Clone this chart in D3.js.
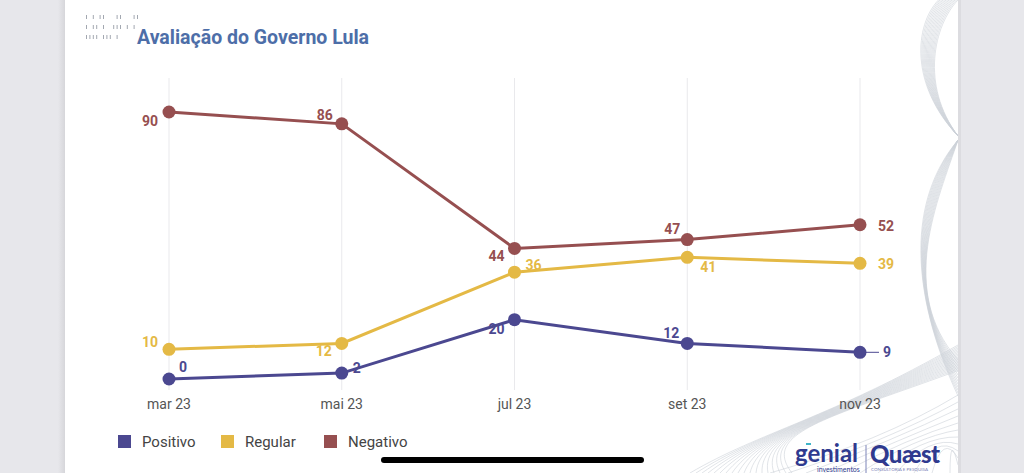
<!DOCTYPE html>
<meta charset="utf-8">
<style>
body { margin: 0; background: #e7e7eb; font-family: Roboto, "Noto Sans", sans-serif; }
svg { display: block; }
.grid line { stroke: #e9e9ec; stroke-width: 1px; }
.xlab { font-size: 14px; fill: #555; text-anchor: middle; }
.val { font-size: 14px; font-weight: 700; }
.leg { font-size: 15px; fill: #444; }
.wave path { fill: none; stroke: #cdd2d9; stroke-width: 0.6px; }
</style>
<body>
<script src="https://d3js.org/d3.v7.min.js"></script>
<script>

var width = 1024,
    height = 473;

// data
var months = ["mar 23", "mai 23", "jul 23", "set 23", "nov 23"];
var seriesNames = ["Positivo", "Regular", "Negativo"];
var positivo = [0, 2, 20, 12, 9];
var regular = [10, 12, 36, 41, 39];
var negativo = [90, 86, 44, 47, 52];

var colors = {"Positivo": "#4b4890", "Regular": "#e4b945", "Negativo": "#964f50"};

// label offsets (dx, dy, anchor) per point
var labelPos = {
  "Negativo": [[-11, 14, "end"], [-9, -4, "end"], [-10, 13, "end"], [-7, -6, "end"], [18, 6, "start"]],
  "Regular":  [[-11, -2, "end"], [-10, 13, "end"], [11, -2, "start"], [13, 15, "start"], [18, 6, "start"]],
  "Positivo": [[10, -7, "start"], [11, 0, "start"], [-10, 14, "end"], [-8, -5, "end"], [23, 5, "start"]]
};

var svg = d3.select("body").append("svg")
    .attr("width", width)
    .attr("height", height);

// card
var defs = svg.append("defs");
var sh = defs.append("linearGradient").attr("id", "shl").attr("x1", 0).attr("x2", 1);
sh.append("stop").attr("offset", 0).attr("stop-color", "#e7e7eb");
sh.append("stop").attr("offset", 1).attr("stop-color", "#d6d6da");
svg.append("rect").attr("x", 58).attr("y", 0).attr("width", 7).attr("height", height).attr("fill", "url(#shl)");
svg.append("rect").attr("x", 65).attr("y", 0).attr("width", 893).attr("height", height).attr("fill", "#fff");

// wave decoration
var wave = svg.append("g").attr("class", "wave");
d3.range(14).forEach(function(i){
  wave.append("path").attr("d", "M" + (958 - i * 1.5) + ",0 C" + (934 - i * 1.5) + ",25 " + (920 - i * 0.8) + ",85 958,136");
});
d3.range(13).forEach(function(i){
  wave.append("path").attr("d", "M958,140 C" + (938 - i * 2.5) + ",200 " + (897 + i * 1) + ",290 958," + (360 + i * 3));
});
d3.range(18).forEach(function(i){
  wave.append("path").attr("d", "M" + (690 + i * 6) + ",473 C760,432 830,418 958," + (345 + i * 1.5));
});
d3.range(11).forEach(function(i){
  wave.append("path").attr("d", "M" + (770 + i * 18) + ",473 Q" + (880 + i * 7) + "," + (442 - i) + " 958," + (395 + i * 7));
});
svg.append("rect").attr("x", 958).attr("y", 0).attr("width", 66).attr("height", height).attr("fill", "#e7e7eb");
svg.append("rect").attr("x", 958).attr("y", 0).attr("width", 3).attr("height", height).attr("fill", "#dcdce0");

// title marks
var marks = ["1 1011 0 11 0 11", "1 11 1 0111 1 1", "1111 111 1"];
marks.forEach(function(row, r){
  row.split("").forEach(function(c, k){
    if (c == "1") {
      svg.append("rect").attr("x", 86 + k * 3.4).attr("y", 15 + r * 10)
        .attr("width", 1).attr("height", 4).attr("fill", "#a3a8b1");
    }
  });
});

svg.append("text")
  .attr("x", 137).attr("y", 44)
  .style("font-size", "19.5px").style("font-weight", 700).style("fill", "#4d6ea8")
  .text("Avaliação do Governo Lula");

var x = d3.scalePoint().domain(months).range([169, 860]);
var y = d3.scaleLinear().domain([0, 90]).range([379, 112]);

// grid
svg.append("g").attr("class", "grid")
  .selectAll("line").data(months).enter().append("line")
  .attr("x1", function(d){ return x(d); })
  .attr("x2", function(d){ return x(d); })
  .attr("y1", 78).attr("y2", 390);

// x axis labels
svg.selectAll(".xlab").data(months).enter().append("text")
  .attr("class", "xlab")
  .attr("x", function(d){ return x(d); })
  .attr("y", 409)
  .text(function(d){ return d; });

var seriesData = {"Positivo": positivo, "Regular": regular, "Negativo": negativo};
var line = d3.line()
  .x(function(d, i){ return x(months[i]); })
  .y(function(d){ return y(d); });

["Negativo", "Regular", "Positivo"].forEach(function(name){
  var vals = seriesData[name];
  var g = svg.append("g");
  g.append("path").datum(vals)
    .attr("d", line)
    .attr("fill", "none")
    .attr("stroke", colors[name])
    .attr("stroke-width", 3);
  g.selectAll("circle").data(vals).enter().append("circle")
    .attr("cx", function(d, i){ return x(months[i]); })
    .attr("cy", function(d){ return y(d); })
    .attr("r", 6.5)
    .attr("fill", colors[name]);
  g.selectAll("text").data(vals).enter().append("text")
    .attr("class", "val")
    .attr("x", function(d, i){ return x(months[i]) + labelPos[name][i][0]; })
    .attr("y", function(d){ return y(d); })
    .attr("dy", function(d, i){ return labelPos[name][i][1]; })
    .attr("text-anchor", function(d, i){ return labelPos[name][i][2]; })
    .style("fill", colors[name])
    .text(function(d){ return d; });
});

// leader for last positivo label
var lastP = positivo[positivo.length - 1];
svg.append("line")
  .attr("x1", x(months[4]) + 6).attr("x2", x(months[4]) + 19)
  .attr("y1", y(lastP)).attr("y2", y(lastP))
  .attr("stroke", colors["Positivo"]).attr("stroke-width", 1);

// legend
var legX = [118, 221, 324];
seriesNames.forEach(function(name, i){
  svg.append("rect").attr("x", legX[i]).attr("y", 435)
    .attr("width", 13).attr("height", 13).attr("fill", colors[name]);
  svg.append("text").attr("class", "leg")
    .attr("x", legX[i] + 24).attr("y", 447)
    .text(name);
});

// logos
var navy = "#2f3a8f";
svg.append("text").attr("x", 795).attr("y", 462)
  .style("font-family", "Lato").style("font-size", "24px").style("font-weight", 700)
  .style("fill", navy).text("genial");
svg.append("rect").attr("x", 806).attr("y", 443).attr("width", 5).attr("height", 2).attr("fill", "#3fb4c8");
svg.append("text").attr("x", 817).attr("y", 472)
  .style("font-family", "Lato").style("font-size", "7px")
  .style("fill", navy).text("investimentos");
svg.append("line").attr("x1", 866).attr("x2", 866).attr("y1", 445).attr("y2", 473)
  .attr("stroke", "#7d84b8").attr("stroke-width", 1);
svg.append("text").attr("x", 870).attr("y", 463)
  .style("font-family", "Lato").style("font-size", "24px").style("font-weight", 900)
  .style("fill", navy).style("letter-spacing", "-0.5px").text("Quæst");
svg.append("text").attr("x", 871).attr("y", 471)
  .style("font-family", "Lato").style("font-size", "4.5px")
  .style("fill", "#7d84b8").text("CONSULTORIA E PESQUISA");

// home indicator
svg.append("rect").attr("x", 381).attr("y", 457).attr("width", 263).attr("height", 6)
  .attr("rx", 3).attr("fill", "#000");

</script>
